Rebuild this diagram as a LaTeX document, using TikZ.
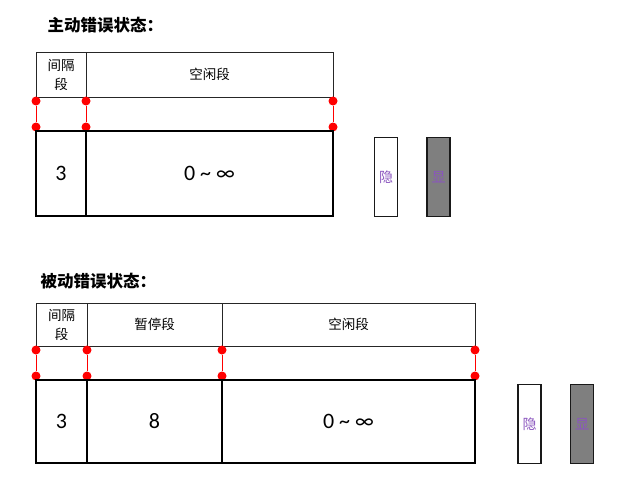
\documentclass[tikz,border=0pt]{standalone}
\usepackage{fontspec}
\setmainfont{Carlito}
\newfontfamily\cjk{Noto Sans CJK SC}
\usepackage{xcolor}
\usetikzlibrary{positioning, calc}

\definecolor{bitpurple}{HTML}{8A55BE}
\definecolor{bitgray}{HTML}{7F7F7F}

\tikzset{
  hdr/.style={draw=black!85, line width=0.9pt, font=\cjk\fontsize{13.5}{19}\selectfont, align=center, inner sep=0pt},
  cell/.style={draw=black, line width=1.4pt, font=\fontsize{22}{24}\selectfont, inner sep=0pt},
  dot/.style={circle, fill=red, inner sep=0pt, minimum size=9pt},
  bit/.style={draw=black!90, line width=1.6pt, minimum width=23pt, minimum height=79pt, inner sep=0pt, text=bitpurple, font=\cjk\fontsize{14}{15}\selectfont},
  title/.style={font=\cjk\bfseries\fontsize{16.5}{18}\selectfont, anchor=west}
}

\begin{document}
\begin{tikzpicture}[x=1pt, y=-1pt]
\useasboundingbox (0,0) rectangle (624,495);

% Active error state
\node[title] (atitle) at (44,25) {主动错误状态：};

\node[hdr, minimum width=50pt, minimum height=45pt] (ah1) at (61,74.5) {间隔\\段};
\node[hdr, minimum width=247pt, minimum height=45pt] (ah2) at (209.5,74.5) {空闲段};

\foreach \x [count=\i] in {36,86,333} {
    \node[dot] (aup\i) at (\x,101) {};
    \node[dot] (alo\i) at (\x,127) {};
    \draw[red, line width=1pt] (aup\i) -- (alo\i);
}

\node[cell, minimum width=50pt, minimum height=85pt] (ab1) at (61,173.5) {3};
\node[cell, minimum width=247pt, minimum height=85pt] (ab2) at (209.5,173.5) {0 \char"007E{} ∞};

\node[bit] (ahid) at (386,177) {隐};
\node[bit, fill=bitgray] (ashow) at (438.5,177) {显};

% Passive error state
\node[title] (ptitle) at (37,281) {被动错误状态：};

\node[hdr, minimum width=51pt, minimum height=43pt] (ph1) at (61.5,324.5) {间隔\\段};
\node[hdr, minimum width=135pt, minimum height=43pt] (ph2) at (154.5,324.5) {暂停段};
\node[hdr, minimum width=253pt, minimum height=43pt] (ph3) at (348.5,324.5) {空闲段};

\foreach \x [count=\i] in {36,87,222,475} {
    \node[dot] (pup\i) at (\x,350) {};
    \node[dot] (plo\i) at (\x,376) {};
    \draw[red, line width=1pt] (pup\i) -- (plo\i);
}

\node[cell, minimum width=51pt, minimum height=83pt] (pb1) at (61.5,421.5) {3};
\node[cell, minimum width=135pt, minimum height=83pt] (pb2) at (154.5,421.5) {8};
\node[cell, minimum width=253pt, minimum height=83pt] (pb3) at (348.5,421.5) {0 \char"007E{} ∞};

\node[bit] (phid) at (529.5,424) {隐};
\node[bit, fill=bitgray] (pshow) at (582,424) {显};
\end{tikzpicture}
\end{document}
